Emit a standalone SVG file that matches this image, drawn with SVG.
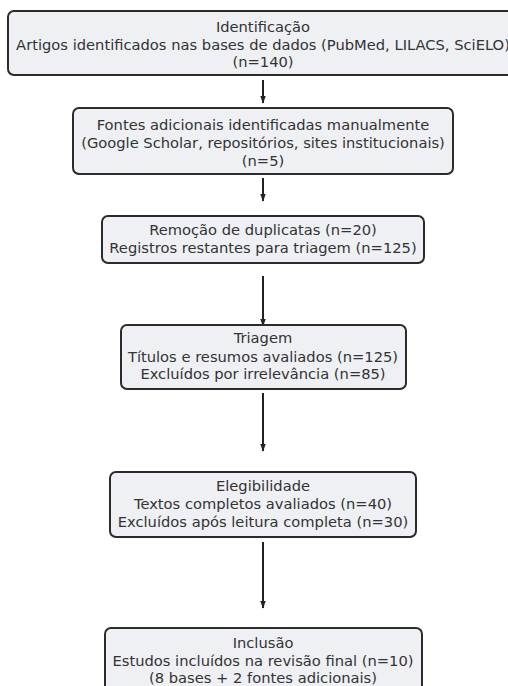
<svg xmlns="http://www.w3.org/2000/svg" width="508" height="686" viewBox="0 0 508 686">
<defs>
<style>
.box{fill:#eef0f3;stroke:#2b2b2b;stroke-width:2}
.t{font-family:"DejaVu Sans",sans-serif;font-size:14.7px;fill:#333;text-anchor:middle}
.c{stroke:#222;stroke-width:2;fill:none;marker-end:url(#ah)}
</style>
<marker id="ah" viewBox="0 0 10 10" refX="9" refY="5" markerWidth="4" markerHeight="4" orient="auto" markerUnits="strokeWidth">
<path d="M0,1.5 L10,5 L0,8.5 z" fill="#222"/>
</marker>
</defs>
<rect width="508" height="686" fill="#fff"/>
<g id="connectors">
<line class="c" x1="263" y1="80" x2="263" y2="103"/>
<line class="c" x1="263" y1="178" x2="263" y2="201"/>
<line class="c" x1="263" y1="276" x2="263" y2="326"/>
<line class="c" x1="263" y1="393" x2="263" y2="451"/>
<line class="c" x1="263" y1="542" x2="263" y2="608"/>
</g>
<g id="n1">
<rect class="box" x="8" y="11" width="510" height="64" rx="6"/>
<text class="t" x="263" y="32">Identificação</text>
<text class="t" x="263" y="50">Artigos identificados nas bases de dados (PubMed, LILACS, SciELO)</text>
<text class="t" x="263" y="67">(n=140)</text>
</g>
<g id="n2">
<rect class="box" x="73" y="108" width="380" height="66" rx="6"/>
<text class="t" x="263" y="130">Fontes adicionais identificadas manualmente</text>
<text class="t" x="263" y="148">(Google Scholar, repositórios, sites institucionais)</text>
<text class="t" x="263" y="166">(n=5)</text>
</g>
<g id="n3">
<rect class="box" x="102" y="216" width="322" height="47" rx="6"/>
<text class="t" x="263" y="235">Remoção de duplicatas (n=20)</text>
<text class="t" x="263" y="253">Registros restantes para triagem (n=125)</text>
</g>
<g id="n4">
<rect class="box" x="121" y="325" width="285" height="64" rx="6"/>
<text class="t" x="263" y="343">Triagem</text>
<text class="t" x="263" y="362">Títulos e resumos avaliados (n=125)</text>
<text class="t" x="263" y="379">Excluídos por irrelevância (n=85)</text>
</g>
<g id="n5">
<rect class="box" x="110" y="472" width="306" height="65" rx="6"/>
<text class="t" x="263" y="491">Elegibilidade</text>
<text class="t" x="263" y="509">Textos completos avaliados (n=40)</text>
<text class="t" x="263" y="527">Excluídos após leitura completa (n=30)</text>
</g>
<g id="n6">
<rect class="box" x="105" y="628" width="317" height="70" rx="6"/>
<text class="t" x="263" y="648">Inclusão</text>
<text class="t" x="263" y="666">Estudos incluídos na revisão final (n=10)</text>
<text class="t" x="263" y="683">(8 bases + 2 fontes adicionais)</text>
</g>
</svg>
